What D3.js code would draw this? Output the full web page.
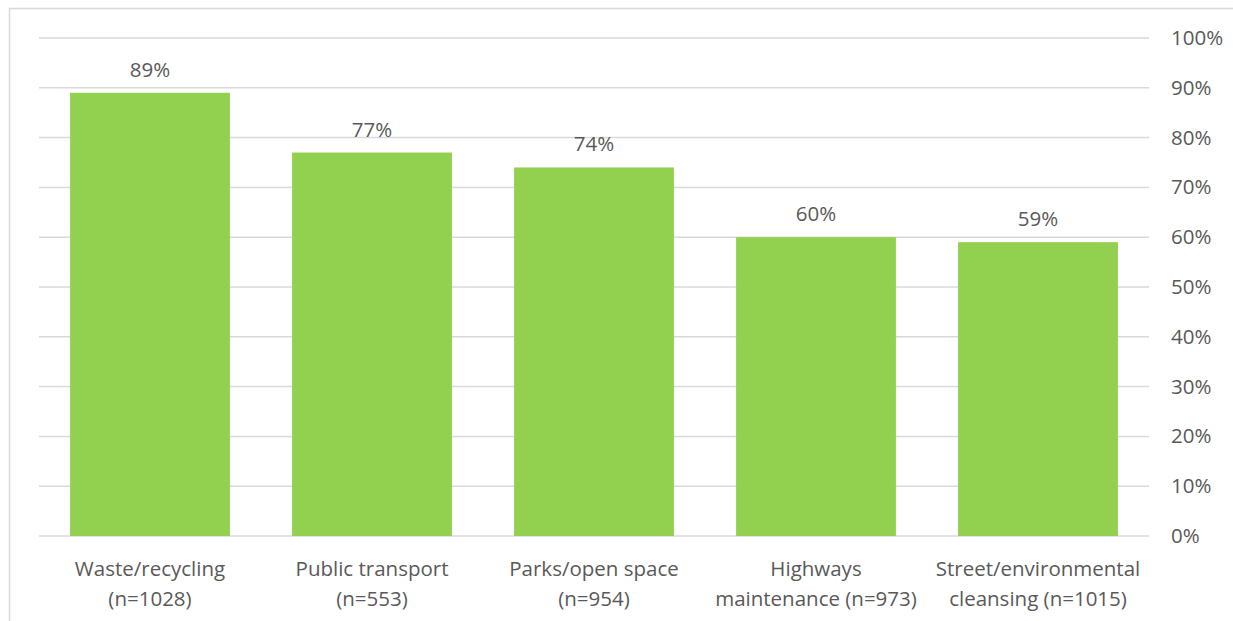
<!DOCTYPE html>
<html><head><meta charset="utf-8">
<script src="https://cdn.jsdelivr.net/npm/d3@7"></script>
<style>body{margin:0;background:#fff}svg{display:block}text{font-family:"Open Sans","Noto Sans",sans-serif;fill:#595959}</style>
</head><body>
<script>
const categories = [["Waste/recycling","(n=1028)"],["Public transport","(n=553)"],["Parks/open space","(n=954)"],["Highways","maintenance (n=973)"],["Street/environmental","cleansing (n=1015)"]];
const values = [0.89,0.77,0.74,0.60,0.59];
const tickValues = [0,0.1,0.2,0.3,0.4,0.5,0.6,0.7,0.8,0.9,1.0];

const W=1233,H=621, FS=20.5;
const svg=d3.select("body").append("svg").attr("width",W).attr("height",H);
svg.append("rect").attr("x",9.5).attr("y",8.5).attr("width",W).attr("height",H).attr("fill","none").attr("stroke","#d9d9d9").attr("stroke-width",1.5);

const x=d3.scaleBand().domain(d3.range(categories.length)).range([39,1149]).paddingInner(0.28).paddingOuter(0.14);
const y=d3.scaleLinear().domain([0,1]).range([536,38]);

svg.append("g").selectAll("line").data(tickValues).join("line")
 .attr("x1",39).attr("x2",1149).attr("y1",d=>y(d)).attr("y2",d=>y(d))
 .attr("stroke","#d9d9d9").attr("stroke-width",1.5);

const yAxis=d3.axisRight(y).tickValues(tickValues).tickFormat(d3.format(".0%")).tickSize(0).tickPadding(0);
const ga=svg.append("g").attr("transform","translate(1171,0)").call(yAxis);
ga.select(".domain").remove();
ga.selectAll("text").attr("font-size",FS).attr("fill","#595959").style("font-family",'"Open Sans","Noto Sans",sans-serif');

svg.append("g").selectAll("rect").data(values).join("rect")
 .attr("x",(d,i)=>x(i)).attr("width",x.bandwidth())
 .attr("y",d=>y(d)).attr("height",d=>y(0)-y(d)).attr("fill","#92d050");

svg.append("g").selectAll("text").data(values).join("text")
 .attr("x",(d,i)=>x(i)+x.bandwidth()/2).attr("y",d=>y(d)-16)
 .attr("text-anchor","middle").attr("font-size",FS).text(d3.format(".0%"));

const cl=svg.append("g").selectAll("g").data(categories).join("g")
 .attr("transform",(d,i)=>`translate(${x(i)+x.bandwidth()/2},0)`);
cl.selectAll("text").data(d=>d).join("text")
 .attr("x",0).attr("y",(d,j)=>576+j*30).attr("text-anchor","middle").attr("font-size",FS).text(d=>d);
</script>
</body></html>
